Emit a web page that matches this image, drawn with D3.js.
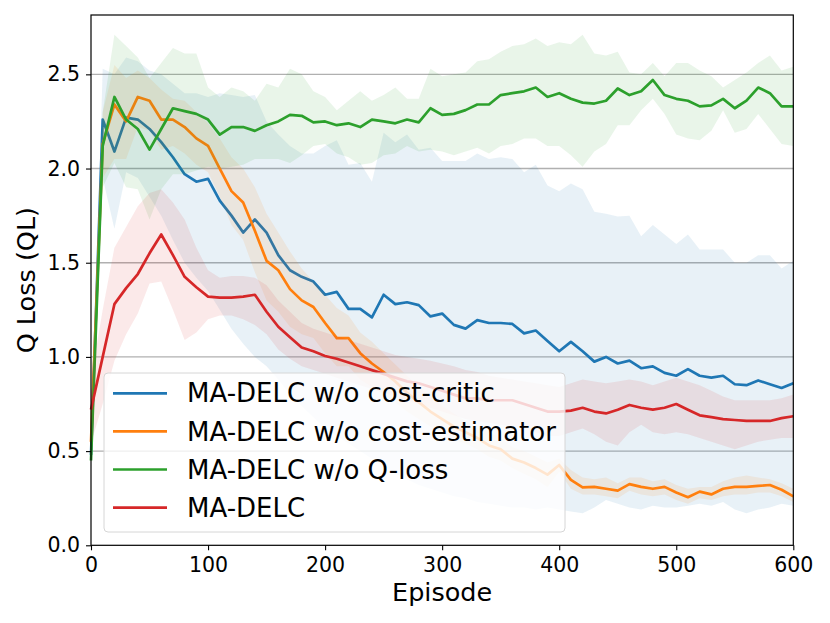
<!DOCTYPE html>
<html>
<head>
<meta charset="utf-8">
<script src="https://cdn.jsdelivr.net/npm/d3@7"></script>
<style>
  body { margin: 0; background: #fff; }
  text { font-family: "DejaVu Sans", sans-serif; }
</style>
</head>
<body>
<svg width="830" height="623"></svg>
<script>
// ------------------------------  data  ----------
var episodes = [0,10,20,30,40,50,60,70,80,90,100,110,120,130,140,150,160,170,180,190,200,
  210,220,230,240,250,260,270,280,290,300,310,320,330,340,350,360,370,380,390,400,
  410,420,430,440,450,460,470,480,490,500,510,520,530,540,550,560,570,580,590,600];

var yTicks = [0, 0.5, 1.0, 1.5, 2.0, 2.5];
var xTicks = [0, 100, 200, 300, 400, 500, 600];

var names = ['MA-DELC w/o cost-critic', 'MA-DELC w/o cost-estimator', 'MA-DELC w/o Q-loss', 'MA-DELC'];
var colors = ['#1f77b4', '#ff7f0e', '#2ca02c', '#d62728'];

// w/o cost-critic
var criticMean = [0.48,2.26,2.09,2.27,2.26,2.21,2.14,2.06,1.97,1.93,1.945,1.83,1.75,1.66,1.73,1.66,1.54,1.46,1.425,1.40,1.33,
  1.345,1.255,1.255,1.21,1.33,1.28,1.29,1.275,1.215,1.23,1.17,1.15,1.195,1.18,1.18,1.175,1.125,1.14,1.085,1.03,
  1.08,1.03,0.975,1.0,0.965,0.98,0.94,0.95,0.915,0.90,0.935,0.90,0.89,0.90,0.855,0.85,0.875,0.855,0.835,0.86];
var criticHigh = [0.5,2.53,2.50,2.59,2.57,2.52,2.50,2.45,2.40,2.40,2.38,2.40,2.39,2.38,2.39,2.25,2.18,2.12,2.08,2.08,2.12,
  2.15,2.02,2.03,1.93,2.19,2.14,2.18,2.10,2.11,2.04,2.04,2.04,2.08,2.05,2.06,2.05,1.98,2.02,1.91,1.88,
  1.92,1.89,1.77,1.76,1.745,1.75,1.64,1.70,1.65,1.60,1.65,1.57,1.57,1.57,1.50,1.50,1.54,1.54,1.47,1.51];
var criticLow = [0.46,1.95,1.68,1.98,1.95,1.85,1.75,1.62,1.50,1.42,1.35,1.25,1.15,1.07,1.0,0.95,0.88,0.80,0.74,0.68,0.62,
  0.58,0.54,0.50,0.46,0.42,0.38,0.35,0.32,0.30,0.28,0.26,0.25,0.23,0.22,0.21,0.20,0.20,0.19,0.20,0.19,
  0.18,0.17,0.20,0.24,0.22,0.20,0.19,0.21,0.20,0.20,0.21,0.22,0.21,0.23,0.19,0.17,0.19,0.20,0.22,0.21];

// w/o cost-estimator
var estMean = [0.55,2.13,2.34,2.25,2.38,2.36,2.26,2.26,2.22,2.16,2.12,2.0,1.88,1.82,1.67,1.51,1.46,1.36,1.30,1.265,1.18,
  1.10,1.10,1.02,0.965,0.92,0.87,0.81,0.76,0.71,0.67,0.63,0.60,0.57,0.53,0.51,0.46,0.44,0.41,0.375,0.426,
  0.347,0.308,0.31,0.30,0.29,0.325,0.31,0.30,0.31,0.28,0.255,0.285,0.27,0.30,0.31,0.31,0.315,0.32,0.295,0.26];
var estHigh = [0.6,2.3,2.55,2.48,2.52,2.48,2.42,2.37,2.36,2.30,2.24,2.16,2.06,2.0,1.9,1.76,1.66,1.56,1.47,1.40,1.33,
  1.26,1.22,1.13,1.08,1.02,0.96,0.90,0.84,0.79,0.74,0.70,0.66,0.63,0.60,0.57,0.52,0.50,0.47,0.44,0.46,
  0.40,0.36,0.35,0.36,0.33,0.36,0.36,0.34,0.35,0.32,0.30,0.31,0.31,0.34,0.36,0.37,0.36,0.35,0.33,0.30];
var estLow = [0.5,1.95,2.05,2.05,2.22,2.2,2.1,2.12,2.08,2.02,1.98,1.85,1.70,1.62,1.45,1.30,1.24,1.16,1.12,1.10,1.02,
  0.95,0.95,0.88,0.84,0.80,0.76,0.71,0.67,0.63,0.60,0.56,0.54,0.51,0.47,0.45,0.41,0.38,0.35,0.31,0.39,
  0.30,0.27,0.27,0.26,0.25,0.29,0.27,0.26,0.27,0.24,0.22,0.25,0.24,0.26,0.27,0.27,0.28,0.28,0.26,0.23];

// w/o Q-loss
var qMean = [0.45,2.12,2.38,2.26,2.21,2.10,2.21,2.32,2.305,2.29,2.26,2.18,2.22,2.22,2.20,2.23,2.25,2.285,2.28,2.245,2.25,
  2.23,2.24,2.22,2.26,2.25,2.24,2.26,2.245,2.32,2.285,2.29,2.31,2.34,2.34,2.39,2.40,2.41,2.43,2.38,2.40,
  2.37,2.35,2.345,2.36,2.425,2.39,2.41,2.47,2.39,2.37,2.36,2.33,2.335,2.37,2.32,2.36,2.43,2.40,2.33,2.33];
var qHigh = [0.5,2.3,2.71,2.65,2.59,2.48,2.56,2.64,2.61,2.61,2.43,2.38,2.43,2.41,2.36,2.45,2.43,2.53,2.50,2.41,2.38,
  2.31,2.36,2.41,2.36,2.39,2.43,2.37,2.37,2.53,2.49,2.50,2.51,2.57,2.58,2.62,2.65,2.66,2.69,2.65,2.67,
  2.66,2.71,2.61,2.60,2.62,2.51,2.50,2.56,2.49,2.56,2.56,2.52,2.49,2.43,2.47,2.51,2.56,2.60,2.52,2.54];
var qLow = [0.4,1.9,2.03,1.9,1.89,1.73,1.89,1.97,1.97,1.99,2.01,2.0,2.01,2.02,2.05,2.05,2.05,2.03,2.07,2.12,2.13,
  2.08,2.06,2.02,2.03,2.07,2.08,2.12,2.09,2.10,2.09,2.07,2.09,2.11,2.08,2.12,2.13,2.16,2.16,2.12,2.12,
  2.07,2.01,2.09,2.13,2.23,2.23,2.31,2.37,2.29,2.18,2.16,2.15,2.20,2.31,2.19,2.21,2.29,2.21,2.13,2.12];

// MA-DELC
var fullMean = [0.72,1.0,1.28,1.365,1.44,1.55,1.65,1.54,1.425,1.37,1.32,1.315,1.315,1.32,1.33,1.24,1.16,1.105,1.05,1.03,1.005,
  0.99,0.97,0.95,0.93,0.91,0.89,0.87,0.86,0.84,0.82,0.80,0.78,0.78,0.77,0.77,0.77,0.75,0.73,0.71,0.71,
  0.715,0.73,0.71,0.70,0.72,0.745,0.73,0.72,0.73,0.75,0.72,0.69,0.68,0.67,0.665,0.66,0.66,0.66,0.675,0.685];
var fullHigh = [0.88,1.25,1.58,1.69,1.80,1.87,1.89,1.82,1.73,1.58,1.46,1.42,1.43,1.43,1.42,1.38,1.30,1.24,1.18,1.15,1.13,
  1.11,1.09,1.07,1.05,1.03,1.01,1.0,0.99,0.98,0.965,0.95,0.93,0.92,0.90,0.89,0.88,0.87,0.86,0.85,0.84,
  0.86,0.88,0.87,0.86,0.87,0.88,0.87,0.85,0.87,0.89,0.87,0.85,0.82,0.79,0.77,0.77,0.77,0.77,0.78,0.80];
var fullLow = [0.54,0.75,0.98,1.12,1.23,1.39,1.40,1.25,1.09,1.13,1.20,1.22,1.22,1.20,1.17,1.12,1.04,0.99,0.95,0.93,0.91,
  0.89,0.87,0.85,0.83,0.81,0.79,0.77,0.75,0.73,0.71,0.69,0.67,0.66,0.65,0.64,0.63,0.62,0.60,0.58,0.58,
  0.60,0.62,0.59,0.55,0.53,0.60,0.64,0.60,0.59,0.60,0.59,0.57,0.55,0.53,0.51,0.53,0.55,0.56,0.57,0.57];

var means = [criticMean, estMean, qMean, fullMean];
var highs = [criticHigh, estHigh, qHigh, fullHigh];
var lows = [criticLow, estLow, qLow, fullLow];

// ------------------------------  chart  ----------
var svg = d3.select('svg');
var padL = 91, padR = 793.3, padT = 15, padB = 545.3;

var xScal = d3.scaleLinear()
              .domain([0, 600])
              .range([padL, padR]);
var yScal = d3.scaleLinear()
              .domain([0, 2.815])
              .range([padB, padT]);

// grid
svg.append('g')
   .selectAll('line')
   .data(yTicks.slice(1))
   .enter().append('line')
   .attr('x1', padL).attr('x2', padR)
   .attr('y1', d => yScal(d)).attr('y2', d => yScal(d))
   .style('stroke', '#b0b0b0')
   .style('stroke-width', 1.4);

var area = d3.area()
             .x((d, i) => xScal(episodes[i]))
             .y0(d => yScal(d[0]))
             .y1(d => yScal(d[1]));
var line = d3.line()
             .x((d, i) => xScal(episodes[i]))
             .y(d => yScal(d));

means.forEach((m, k) => {
    var band = lows[k].map((lo, i) => [lo, highs[k][i]]);
    svg.append('path')
       .attr('d', area(band))
       .style('fill', colors[k])
       .style('fill-opacity', 0.1)
       .style('stroke', 'none');
    svg.append('path')
       .attr('d', line(m))
       .style('fill', 'none')
       .style('stroke', colors[k])
       .style('stroke-width', 2.7)
       .style('stroke-linejoin', 'round');
});

// axes
var xAxis = d3.axisBottom(xScal).tickValues(xTicks).tickSize(5).tickPadding(7.5).tickSizeOuter(0);
var yAxis = d3.axisLeft(yScal).tickValues(yTicks).tickSize(5).tickPadding(6).tickSizeOuter(0)
              .tickFormat(d3.format('.1f'));

var gx = svg.append('g').attr('transform', 'translate(0,' + padB + ')').call(xAxis);
var gy = svg.append('g').attr('transform', 'translate(' + padL + ',0)').call(yAxis);
[gx, gy].forEach(g => {
    g.select('.domain').remove();
    g.selectAll('line').style('stroke', '#000').style('stroke-width', 1.1);
    g.selectAll('text').style('font-size', '20.5px').style('fill', '#000')
     .style('font-family', 'DejaVu Sans');
});

// frame
svg.append('rect')
   .attr('x', padL).attr('y', padT)
   .attr('width', padR - padL).attr('height', padB - padT)
   .style('fill', 'none')
   .style('stroke', '#000')
   .style('stroke-width', 1.2);

svg.append('text')
   .attr('x', (padL + padR) / 2)
   .attr('y', 601)
   .attr('text-anchor', 'middle')
   .style('font-size', '25.5px')
   .text('Episode');

svg.append('text')
   .attr('transform', 'translate(35,' + (padT + padB) / 2 + ') rotate(-90)')
   .attr('text-anchor', 'middle')
   .style('font-size', '25.5px')
   .text('Q Loss (QL)');

// legend
var legend = svg.append('g');
legend.append('rect')
      .attr('x', 104).attr('y', 373)
      .attr('width', 461).attr('height', 159)
      .attr('rx', 4)
      .style('fill', '#fff')
      .style('fill-opacity', 0.8)
      .style('stroke', '#d6d6d6')
      .style('stroke-width', 1);

var rows = legend.selectAll('g.row')
                 .data(names)
                 .enter().append('g')
                 .attr('class', 'row')
                 .attr('transform', (d, i) => 'translate(0,' + (393.3 + i * 38.1) + ')');
rows.append('line')
    .attr('x1', 113).attr('x2', 167)
    .style('stroke', (d, i) => colors[i])
    .style('stroke-width', 2.7);
rows.append('text')
    .attr('x', 187)
    .attr('dy', '0.35em')
    .style('font-size', '26px')
    .text(d => d);
</script>
</body>
</html>
